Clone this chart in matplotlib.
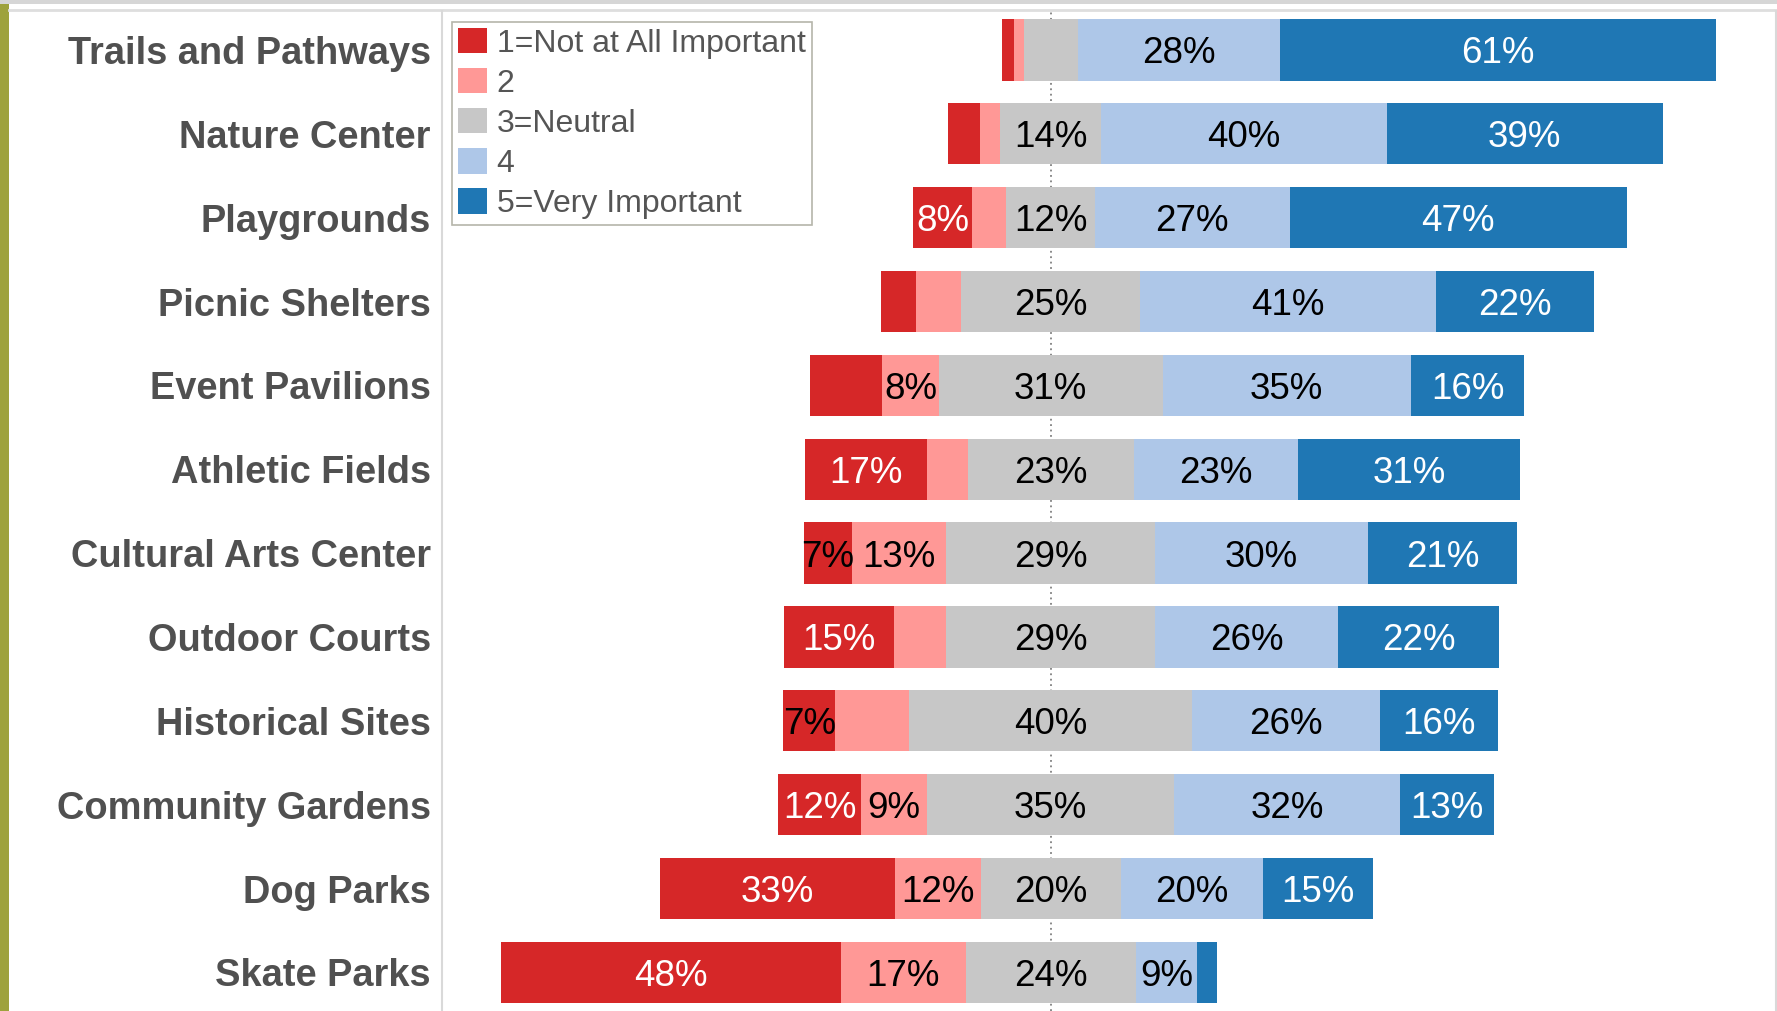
import matplotlib.pyplot as plt
import numpy as np
from matplotlib.lines import Line2D
from matplotlib.patches import Rectangle

plt.rcParams["font.family"] = ["Liberation Sans", "DejaVu Sans"]

categories = [
    "Trails and Pathways",
    "Nature Center",
    "Playgrounds",
    "Picnic Shelters",
    "Event Pavilions",
    "Athletic Fields",
    "Cultural Arts Center",
    "Outdoor Courts",
    "Historical Sites",
    "Community Gardens",
    "Dog Parks",
    "Skate Parks",
]

# percentages per response level
not_at_all = [1.7, 4.5, 8.2, 4.8, 10.1, 17.1, 6.7, 15.4, 7.3, 11.6, 32.8, 47.6]
level_2 = [1.4, 2.8, 4.8, 6.4, 7.9, 5.7, 13.2, 7.3, 10.3, 9.2, 12.0, 17.4]
neutral = [7.5, 14.2, 12.4, 25.0, 31.3, 23.2, 29.3, 29.3, 39.6, 34.6, 19.6, 23.8]
level_4 = [28.3, 39.9, 27.2, 41.4, 34.7, 23.0, 29.7, 25.6, 26.3, 31.6, 19.9, 8.6]
very_important = [61.0, 38.6, 47.2, 22.1, 15.9, 31.1, 20.9, 22.4, 16.4, 13.1, 15.4, 2.8]

legend_labels = ["1=Not at All Important", "2", "3=Neutral", "4", "5=Very Important"]
colors = ["#d62728", "#ff9896", "#c7c7c7", "#aec7e8", "#1f77b4"]

# which segment labels are visible (the rest were hidden by overlap)
show_label = [
    [0, 0, 0, 1, 1],
    [0, 0, 1, 1, 1],
    [1, 0, 1, 1, 1],
    [0, 0, 1, 1, 1],
    [0, 1, 1, 1, 1],
    [1, 0, 1, 1, 1],
    [1, 1, 1, 1, 1],
    [1, 0, 1, 1, 1],
    [1, 0, 1, 1, 1],
    [1, 1, 1, 1, 1],
    [1, 1, 1, 1, 1],
    [1, 1, 1, 1, 0],
]

W, H = 1777, 1011
fig = plt.figure(figsize=(W / 100, H / 100), dpi=100)
ax = fig.add_axes([442 / W, 0, (1776 - 442) / W, 1 - 11 / H])

vals = np.array([not_at_all, level_2, neutral, level_4, very_important])
n = vals.shape[1]
y = np.arange(n)
start = -(vals[0] + vals[1] + vals[2] / 2)
lefts = start + np.vstack([np.zeros(n), np.cumsum(vals, axis=0)[:-1]])

ax.axvline(0, color="#808080", linestyle=(0, (1, 2)), lw=1.3, zorder=0)

for k in range(5):
    ax.barh(y, vals[k], left=lefts[k], height=0.73, color=colors[k],
            label=legend_labels[k], linewidth=0, zorder=2)

for i in range(n):
    for k in range(5):
        if not show_label[i][k]:
            continue
        v = vals[k, i]
        if k == 4 or (k == 0 and v >= 8):
            tc = "white"
        else:
            tc = "black"
        ax.text(lefts[k, i] + v / 2, i, f"{round(v)}%", ha="center",
                va="center_baseline", fontsize=26.5, color=tc, zorder=3)

ax.set_xlim(-85.13, 101.44)
ax.set_ylim(11.46, -0.464)
ax.set_xticks([])
ax.set_yticks(y, categories, fontsize=27.4, fontweight="bold", color="#505050")
ax.tick_params(axis="y", length=0, pad=8)
for s in ax.spines.values():
    s.set_visible(False)

# frame decorations
fig.add_artist(Rectangle((0, 1 - 3.5 / H), 1, 3.5 / H, transform=fig.transFigure,
                         color="#d6d6d6", lw=0))
fig.add_artist(Rectangle((0, 0), 9 / W, 1 - 3.5 / H, transform=fig.transFigure,
                         color="#9ea23c", lw=0))
fig.add_artist(Line2D([9 / W, 1], [1 - 10 / H] * 2, transform=fig.transFigure,
                      color="#dedede", lw=2))
fig.add_artist(Line2D([442 / W] * 2, [0, 1 - 11 / H], transform=fig.transFigure,
                      color="#d9d9d9", lw=1.5))
fig.add_artist(Line2D([1776 / W] * 2, [0, 1 - 11 / H], transform=fig.transFigure,
                      color="#d9d9d9", lw=1.5))

leg = fig.legend(loc="upper left", bbox_to_anchor=(452 / W, 1 - 21.5 / H),
                 fontsize=23, frameon=True, fancybox=False, framealpha=1,
                 edgecolor="#b5b5aa", borderpad=0.2, handlelength=0.9,
                 handleheight=0.85, handletextpad=0.3, labelspacing=0.29,
                 borderaxespad=0)
leg.get_frame().set_linewidth(1.2)
for t in leg.get_texts():
    t.set_color("#555555")

fig.savefig("out.png", dpi=100)
